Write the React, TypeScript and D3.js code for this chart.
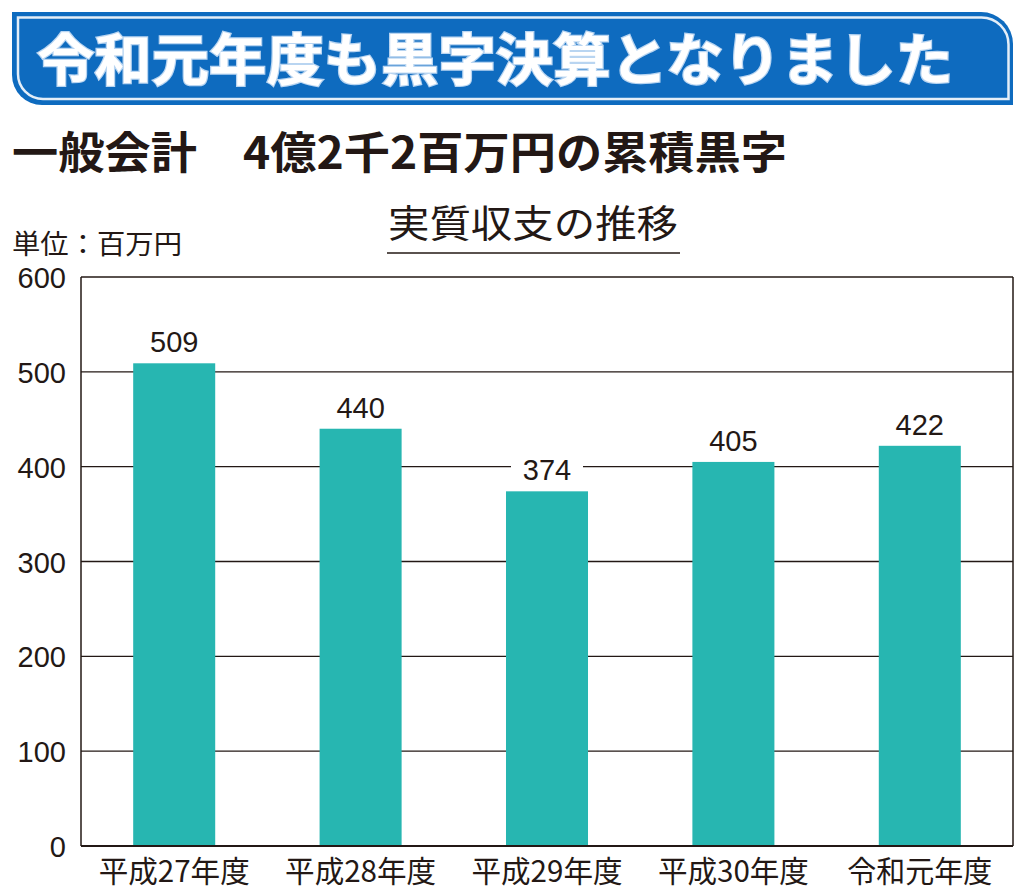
import React from 'react';
import * as d3 from 'd3';

// 実質収支の推移 (単位：百万円)
const categories = ['平成27年度', '平成28年度', '平成29年度', '平成30年度', '令和元年度'];
const values = [509, 440, 374, 405, 422];
const yTicks = [0, 100, 200, 300, 400, 500, 600];

const headline = '令和元年度も黒字決算となりました';
const subhead = '一般会計　4億2千2百万円の累積黒字';
const chartTitle = '実質収支の推移';
const unitLabel = '単位：百万円';

const W = 1029;
const H = 896;
const JP = '"Noto Sans CJK JP", "Noto Sans", sans-serif';
const NUM = '"Liberation Sans", Arial, sans-serif';
const INK = '#231815';
const BLUE = '#0e6bbf';
const BAR = '#27b6b1';

const plot = { left: 81, right: 1013, top: 277, bottom: 846 };

const App: React.FC = () => {
  const x = d3.scaleBand<string>()
    .domain(categories)
    .range([plot.left, plot.right])
    .paddingInner(0.56)
    .paddingOuter(0.28);

  const y = d3.scaleLinear().domain([0, 600]).range([plot.bottom, plot.top]);

  // header banner: square top-left / bottom-right, rounded top-right / bottom-left
  const banner = (x0: number, y0: number, x1: number, y1: number, r1: number, r2: number) =>
    `M${x0},${y0} H${x1 - r1} A${r1},${r1} 0 0 1 ${x1},${y0 + r1} V${y1} H${x0 + r2} A${r2},${r2} 0 0 1 ${x0},${y1 - r2} Z`;

  return (
    <svg width={W} height={H} style={{ position: 'absolute', left: 0, top: 0, background: '#fff' }}>
      <path d={banner(12, 12, 1013, 105, 32, 30)} fill={BLUE} />
      <path d={banner(18, 17.5, 1008.5, 99, 27, 25)} fill="none" stroke="#e4eef8" strokeWidth={2.5} />
      <text
        x={37} y={80} fontFamily={JP} fontWeight={700} fontSize={56}
        textLength={916} lengthAdjust="spacingAndGlyphs"
        fill="#fff" stroke="#b9d5f1" strokeWidth={2.5} paintOrder="stroke"
      >
        {headline}
      </text>

      <text x={12} y={169} fontFamily={JP} fontWeight={700} fontSize={44}
        textLength={775} lengthAdjust="spacingAndGlyphs" fill={INK}>
        {subhead}
      </text>

      <text x={388} y={237} fontFamily={JP} fontSize={38}
        textLength={290} lengthAdjust="spacingAndGlyphs" fill={INK}>
        {chartTitle}
      </text>
      <line x1={387} x2={680} y1={253} y2={253} stroke={INK} strokeWidth={1.3} />

      <text x={12} y={254} fontFamily={JP} fontSize={27}
        textLength={170} lengthAdjust="spacingAndGlyphs" fill={INK}>
        {unitLabel}
      </text>

      {/* grid + frame */}
      {yTicks.map((t) => (
        <g key={t}>
          <line x1={plot.left} x2={plot.right} y1={y(t)} y2={y(t)}
            stroke={INK} strokeWidth={t === 0 ? 2.2 : 1.3} />
          <text x={66} y={y(t) + 11} textAnchor="end" fontFamily={NUM} fontSize={29} fill={INK}>
            {t}
          </text>
        </g>
      ))}
      <line x1={plot.left} x2={plot.left} y1={plot.top} y2={plot.bottom} stroke={INK} strokeWidth={1.5} />
      <line x1={plot.right} x2={plot.right} y1={plot.top} y2={plot.bottom} stroke={INK} strokeWidth={1.5} />

      {/* bars */}
      {categories.map((c, i) => {
        const bx = x(c)!;
        const top = y(values[i]);
        const cx = bx + x.bandwidth() / 2;
        return (
          <g key={c}>
            <rect x={bx} y={top} width={x.bandwidth()} height={plot.bottom - 1 - top} fill={BAR} />
            <rect x={cx - 36} y={top - 37} width={72} height={32} fill="#fff" />
            <text x={cx} y={top - 11} textAnchor="middle" fontFamily={NUM} fontSize={29} fill={INK}>
              {values[i]}
            </text>
            <text x={cx} y={882} textAnchor="middle" fontFamily={JP} fontSize={30}
              textLength={c.startsWith('令') ? 145 : 151} lengthAdjust="spacingAndGlyphs" fill={INK}>
              {c}
            </text>
          </g>
        );
      })}
    </svg>
  );
};

export default App;
